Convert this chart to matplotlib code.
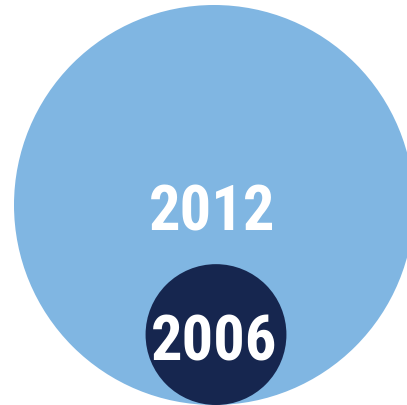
import matplotlib
matplotlib.use("Agg")
import matplotlib.pyplot as plt
from matplotlib.patches import Circle
from matplotlib import font_manager as fm
import numpy as np

years = ["2012", "2006"]
values = [100.0, 12.4]          # relative size (area)
colors = ["#80B6E2", "#16264F"]

def pick_font():
    prefs = ["Roboto Condensed", "Liberation Sans Narrow", "Barlow Semi Condensed",
             "Archivo Narrow", "Asap Condensed", "Barlow Condensed"]
    for p in prefs:
        cands = [f for f in fm.fontManager.ttflist
                 if f.name == p and f.style == "normal" and "[" not in f.fname
                 and f.weight in (700, "bold")]
        if cands:
            return fm.FontProperties(fname=cands[0].fname)
    return fm.FontProperties(family="DejaVu Sans", weight="bold")

fp = pick_font()
fp.set_size(45)

W, H = 407, 406
fig = plt.figure(figsize=(W / 100, H / 100), dpi=100)
ax = fig.add_axes([0, 0, 1, 1])
ax.set_xlim(0, W)
ax.set_ylim(H, 0)
ax.set_aspect("equal")
ax.axis("off")

Rmax = 200.0
bottom = 406.0
radii = [Rmax * np.sqrt(v / max(values)) for v in values]
centers_x = [214.0, 216.0]
for yr, r, cx, c in zip(years, radii, centers_x, colors):
    cy = bottom - r
    ax.add_patch(Circle((cx, cy), r, facecolor=c, edgecolor="none"))
for yr, r, cx in zip(years, radii, centers_x):
    cy = bottom - r
    ax.text(cx - 2, cy + 1, yr, color="white", fontproperties=fp,
            ha="center", va="center_baseline")

fig.savefig("out.png", dpi=100)
